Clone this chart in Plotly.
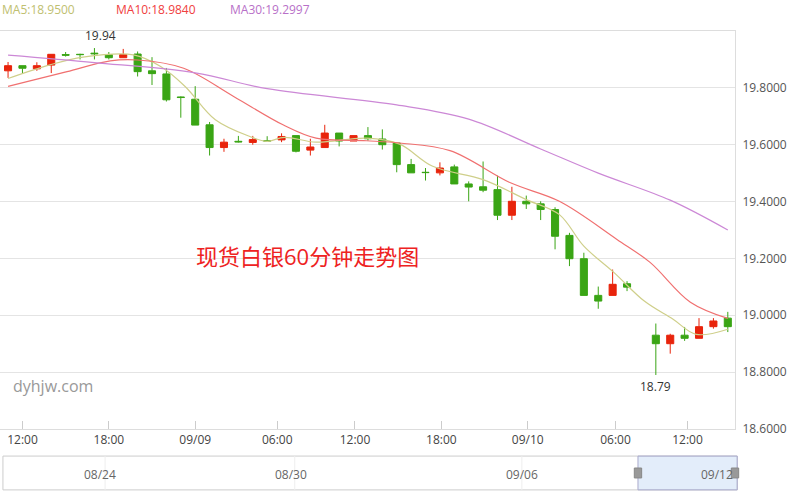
import plotly.graph_objects as go

# hourly candles, slot index (slot 44 is a market break)
slots = list(range(44)) + [45, 46, 47, 48, 49, 50]
opens = [19.860, 19.878, 19.867, 19.880, 19.917, 19.918, 19.922, 19.917, 19.906, 19.919,
         19.860, 19.849, 19.768, 19.760, 19.670, 19.590, 19.612, 19.608, 19.614, 19.617,
         19.632, 19.581, 19.590, 19.641, 19.613, 19.632, 19.620, 19.606, 19.530, 19.503,
         19.501, 19.522, 19.462, 19.452, 19.442, 19.352, 19.401, 19.392, 19.372, 19.281,
         19.199, 19.070, 19.070, 19.111, 18.930, 18.900, 18.930, 18.919, 18.960, 18.990]
closes = [19.878, 19.869, 19.878, 19.918, 19.915, 19.917, 19.920, 19.906, 19.917, 19.857,
          19.850, 19.758, 19.766, 19.669, 19.590, 19.609, 19.610, 19.618, 19.613, 19.629,
          19.577, 19.592, 19.641, 19.613, 19.632, 19.621, 19.600, 19.530, 19.501, 19.502,
          19.518, 19.462, 19.451, 19.440, 19.352, 19.401, 19.392, 19.372, 19.278, 19.199,
          19.070, 19.050, 19.109, 19.099, 18.900, 18.930, 18.919, 18.960, 18.980, 18.960]
highs = [19.891, 19.878, 19.890, 19.918, 19.926, 19.920, 19.940, 19.926, 19.937, 19.928,
         19.908, 19.870, 19.770, 19.806, 19.680, 19.621, 19.631, 19.631, 19.630, 19.640,
         19.632, 19.621, 19.670, 19.641, 19.632, 19.662, 19.654, 19.606, 19.550, 19.518,
         19.538, 19.530, 19.471, 19.541, 19.491, 19.452, 19.421, 19.401, 19.380, 19.290,
         19.220, 19.101, 19.161, 19.120, 18.971, 18.935, 18.959, 18.990, 18.990, 19.012]
lows = [19.835, 19.852, 19.860, 19.852, 19.910, 19.900, 19.900, 19.900, 19.906, 19.840,
        19.810, 19.752, 19.695, 19.669, 19.562, 19.575, 19.608, 19.600, 19.610, 19.609,
        19.573, 19.562, 19.590, 19.594, 19.613, 19.614, 19.583, 19.503, 19.501, 19.474,
        19.492, 19.462, 19.401, 19.433, 19.335, 19.335, 19.374, 19.335, 19.232, 19.173,
        19.070, 19.023, 19.070, 19.085, 18.790, 18.865, 18.910, 18.919, 18.953, 18.941]

ma5_x = [0, 2.9, 5.2, 8.7, 10.6, 12.3, 14.4, 16.8, 18, 19.2, 21.4, 24.9, 27.2, 29.5, 33, 36,
         38.3, 40, 42.1, 44.2, 46.2, 47.8, 50]
ma5_y = [19.833, 19.881, 19.908, 19.916, 19.875, 19.805, 19.688, 19.629, 19.612, 19.626,
         19.609, 19.623, 19.602, 19.524, 19.477, 19.407, 19.354, 19.243, 19.150, 19.050,
         18.986, 18.933, 18.951]
ma10_x = [0, 1.8, 4.1, 7.1, 9.0, 12.2, 15.7, 19.1, 21.4, 24.9, 27.2, 30.7, 34.9, 38.3, 42.3,
          44.6, 47.4, 50]
ma10_y = [19.805, 19.828, 19.857, 19.895, 19.898, 19.869, 19.769, 19.670, 19.623, 19.614,
          19.606, 19.579, 19.466, 19.401, 19.267, 19.186, 19.046, 18.989]
ma30_x = [0, 6, 13, 18, 27, 32, 37, 41, 46, 50]
ma30_y = [19.915, 19.889, 19.853, 19.797, 19.740, 19.690, 19.585, 19.500, 19.405, 19.300]

tick_pos = [1, 7, 13, 18.7, 24.1, 30.1, 36.1, 42.2, 47.2]
tick_text = ["12:00", "18:00", "09/09", "06:00", "12:00", "18:00", "09/10", "06:00", "12:00"]
y_ticks = [18.6, 18.8, 19.0, 19.2, 19.4, 19.6, 19.8]
nav_labels = ["08/24", "08/30", "09/06", "09/12"]
nav_pos = [0.16, 0.42, 0.735, 1.0]
nav_lines = [0.143, 0.401, 0.71]

RED = "#e8240c"
GREEN = "#3aa515"

fig = go.Figure()
for xs, ys, col in [(ma5_x, ma5_y, "#cfcf8a"), (ma10_x, ma10_y, "#f07070"), (ma30_x, ma30_y, "#cc88d6")]:
    fig.add_trace(go.Scatter(x=xs, y=ys, mode="lines", line=dict(color=col, width=1.2, shape="spline"),
                             hoverinfo="skip"))
fig.add_trace(go.Candlestick(x=slots, open=opens, high=highs, low=lows, close=closes,
                             increasing=dict(line=dict(color=RED, width=1), fillcolor=RED),
                             decreasing=dict(line=dict(color=GREEN, width=1), fillcolor=GREEN),
                             whiskerwidth=0))

fig.update_layout(
    width=800, height=499, showlegend=False, plot_bgcolor="white", paper_bgcolor="white",
    margin=dict(l=0, r=65, t=31, b=70),
    font=dict(family="Open Sans, Noto Sans CJK SC", color="#444"),
    xaxis=dict(range=[-0.56, 50.5], rangeslider=dict(visible=False), tickvals=tick_pos,
               ticktext=tick_text, ticks="inside", ticklen=8, tickcolor="#ccc", showgrid=False,
               showline=True, linecolor="#ddd", mirror=True, tickfont=dict(size=12, color="#444"),
               zeroline=False, automargin=False),
    yaxis=dict(range=[18.6, 20.0], side="right", tickvals=y_ticks,
               ticktext=["%.4f" % v for v in y_ticks], gridcolor="#e4e4e4",
               showline=True, linecolor="#ddd", mirror=True, tickfont=dict(size=12, color="#555"),
               zeroline=False, ticklabelstandoff=4, automargin=False),
)

anns = [
    dict(x=0, y=1.055, text="MA5:18.9500", color="#c0c070"),
    dict(x=0.155, y=1.055, text="MA10:18.9840", color="#f04040"),
    dict(x=0.31, y=1.055, text="MA30:19.2997", color="#b870c8"),
]
for a in anns:
    fig.add_annotation(x=a["x"], y=a["y"], xref="paper", yref="paper", text=a["text"], showarrow=False,
                       xanchor="left", yanchor="middle", font=dict(size=12, color=a["color"]))
fig.add_annotation(x=6.4, y=19.94, text="19.94", showarrow=False, yanchor="bottom", yshift=2,
                   font=dict(size=12, color="#333"))
fig.add_annotation(x=45, y=18.79, text="18.79", showarrow=False, yanchor="top", yshift=-1,
                   font=dict(size=12, color="#333"))
fig.add_annotation(x=0.418, y=0.435, xref="paper", yref="paper", text="现货白银60分钟走势图",
                   showarrow=False, font=dict(size=22, color="#ee2222"))
fig.add_annotation(x=0.015, y=0.075, xref="paper", yref="paper", text="dyhjw.com", showarrow=False,
                   xanchor="left", font=dict(size=16, color="#999"))

# navigator
y0, y1 = -0.153, -0.068
fig.add_shape(type="rect", xref="paper", yref="paper", x0=0.004, x1=1.003, y0=y0, y1=y1,
              line=dict(color="#ccc", width=1), fillcolor="white")
for xp in nav_lines:
    fig.add_shape(type="line", xref="paper", yref="paper", x0=xp, x1=xp, y0=y0, y1=y1,
                  line=dict(color="#eee", width=1))
fig.add_shape(type="rect", xref="paper", yref="paper", x0=0.868, x1=1.003, y0=y0, y1=y1,
              line=dict(color="#aac", width=1), fillcolor="rgba(200,220,245,0.5)")
for xp in [0.868, 1.0]:
    fig.add_shape(type="rect", xref="paper", yref="paper", x0=xp - 0.005, x1=xp + 0.005,
                  y0=-0.123, y1=-0.098, line=dict(color="#888", width=1), fillcolor="#999")
for t, p in zip(nav_labels, nav_pos):
    fig.add_annotation(x=p, y=-0.14, xref="paper", yref="paper", text=t, showarrow=False,
                       xanchor="right", font=dict(size=12, color="#666"))

fig.write_html("out.html", config={"displayModeBar": False},
               post_script="document.body.style.margin='0';")
